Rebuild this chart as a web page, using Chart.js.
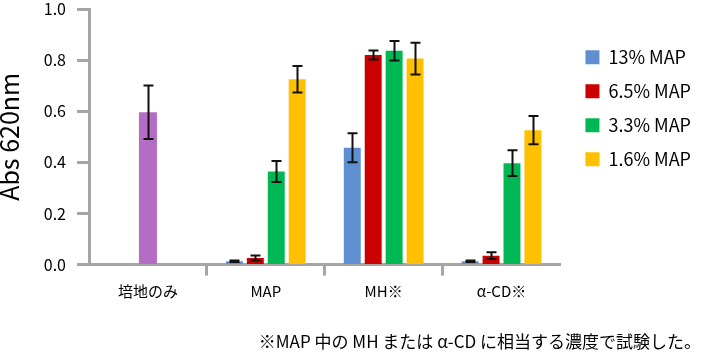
<!DOCTYPE html>
<html lang="ja">
<head>
  <meta charset="UTF-8">
  <title>Abs 620nm</title>
  <script src="https://cdn.jsdelivr.net/npm/chart.js"></script>
  <style>
    html, body { margin: 0; padding: 0; background: #fff; }
    #wrap { width: 701px; height: 352px; }
  </style>
</head>
<body>
<div id="wrap">
  <canvas id="absChart"></canvas>
</div>

<script>
  const categories = ['培地のみ', 'MAP', 'MH※', 'α-CD※'];
  const seriesLabels = ['培地のみ', '13% MAP', '6.5% MAP', '3.3% MAP', '1.6% MAP'];

  // absorbance values, null where the series has no bar
  const control = [0.596, null, null, null];
  const map13 = [null, 0.013, 0.457, 0.013];
  const map65 = [null, 0.026, 0.820, 0.035];
  const map33 = [null, 0.364, 0.837, 0.397];
  const map16 = [null, 0.725, 0.806, 0.526];

  // error bar half-lengths
  const controlErr = [0.105, null, null, null];
  const map13Err = [null, 0.003, 0.057, 0.003];
  const map65Err = [null, 0.010, 0.018, 0.013];
  const map33Err = [null, 0.041, 0.038, 0.050];
  const map16Err = [null, 0.052, 0.062, 0.055];

  const yTicks = [0, 0.2, 0.4, 0.6, 0.8, 1.0];

  const colors = ['#b46cc4', '#5f8fd1', '#cc0000', '#00b853', '#ffc000'];
  const axisGray = '#a6a6a6';

  Chart.defaults.font.family = '"Noto Sans CJK JP", "Noto Sans", sans-serif';
  Chart.defaults.color = '#000';

  const values = [control, map13, map65, map33, map16];
  const errors = [controlErr, map13Err, map65Err, map33Err, map16Err];

  const datasets = values.map((v, i) => ({
    label: seriesLabels[i],
    data: v,
    errors: errors[i],
    backgroundColor: colors[i],
    borderWidth: 0,
    skipNull: true,
    categoryPercentage: 0.71,
    barPercentage: 0.81,
    maxBarThickness: 18
  }));

  const errorBars = {
    id: 'errorBars',
    afterDatasetsDraw(chart) {
      const ctx = chart.ctx;
      const y = chart.scales.y;
      ctx.save();
      ctx.strokeStyle = '#111';
      ctx.lineWidth = 2;
      chart.data.datasets.forEach((ds, i) => {
        const meta = chart.getDatasetMeta(i);
        meta.data.forEach((bar, j) => {
          const v = ds.data[j];
          const e = ds.errors[j];
          if (v == null || e == null) return;
          const top = y.getPixelForValue(v + e);
          const bot = y.getPixelForValue(v - e);
          const x = Math.round(bar.x) + 0.5;
          ctx.beginPath();
          ctx.moveTo(x, top);
          ctx.lineTo(x, bot);
          ctx.moveTo(x - 5, top);
          ctx.lineTo(x + 5, top);
          ctx.moveTo(x - 5, bot);
          ctx.lineTo(x + 5, bot);
          ctx.stroke();
        });
      });
      ctx.restore();
    }
  };

  new Chart(document.getElementById('absChart'), {
    type: 'bar',
    data: {
      labels: categories,
      datasets: datasets
    },
    options: {
      animation: false,
      responsive: true,
      maintainAspectRatio: false,
      layout: {
        padding: 0
      },
      plugins: {
        legend: {
          position: 'right',
          align: 'start',
          fullSize: false,
          maxWidth: 200,
          title: {
            display: true,
            text: ' ',
            font: { size: 1 },
            padding: { top: 0, bottom: 22 }
          },
          labels: {
            filter: item => item.datasetIndex !== 0,
            boxWidth: 14,
            boxHeight: 14,
            padding: 16,
            font: { size: 18 }
          }
        },
        title: {
          display: true,
          position: 'bottom',
          align: 'end',
          text: '※MAP 中の MH または α-CD に相当する濃度で試験した。',
          font: { size: 17, weight: 'normal' },
          padding: { top: 24, bottom: 0 }
        },
        tooltip: { enabled: false }
      },
      scales: {
        x: {
          border: { color: axisGray, width: 3 },
          grid: {
            drawOnChartArea: false,
            drawTicks: true,
            tickLength: 11,
            tickWidth: 3,
            tickColor: c => (c.type !== 'tick' || c.index === 0) ? 'rgba(0,0,0,0)' : axisGray
          },
          ticks: {
            font: { size: 15 },
            padding: 7
          }
        },
        y: {
          min: 0,
          max: 1,
          afterBuildTicks: s => { s.ticks = yTicks.map(v => ({ value: v })); },
          afterFit: s => {
            s.width = 89;
            s.paddingTop = 9;
            s.paddingBottom = 9;
          },
          border: { color: axisGray, width: 3 },
          grid: {
            drawOnChartArea: false,
            tickLength: 12,
            tickWidth: 3,
            tickColor: axisGray
          },
          ticks: {
            font: { size: 16 },
            padding: 11,
            callback: v => v.toFixed(1)
          },
          title: {
            display: true,
            text: 'Abs 620nm',
            font: { size: 25, lineHeight: 0.75 },
            padding: 0
          }
        },
        // empty gap between the plot and the legend
        gap: {
          type: 'linear',
          position: 'right',
          display: true,
          border: { display: false },
          grid: { display: false },
          ticks: { display: false },
          afterFit: s => { s.width = 9; }
        }
      }
    },
    plugins: [errorBars]
  });
</script>
</body>
</html>
